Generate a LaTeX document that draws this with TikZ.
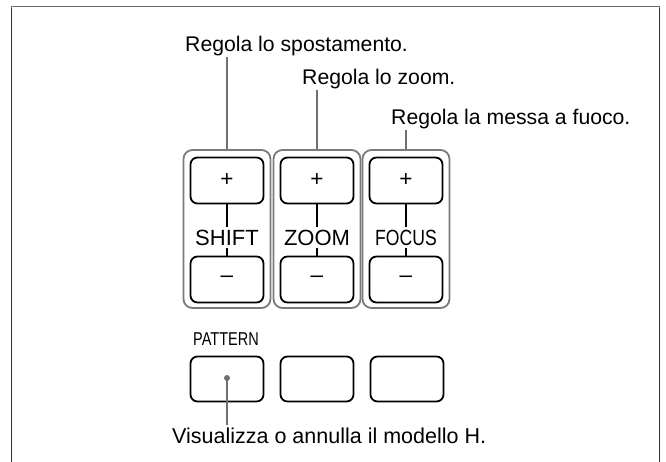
\documentclass[tikz,border=0pt]{standalone}
\usepackage{fontspec}
\setmainfont{Liberation Sans}
\usepackage{graphicx}
\definecolor{frameg}{HTML}{6E6E6E}
\definecolor{leadg}{HTML}{707070}
\definecolor{grpg}{HTML}{7A7A7A}
\begin{document}
\begin{tikzpicture}[x=1pt,y=-1pt,
  lbl/.style={inner sep=0pt,font=\fontsize{21.2}{24}\selectfont},
  glbl/.style={inner sep=0pt,font=\fontsize{22}{24}\selectfont},
  grp/.style={draw=grpg,line width=1.8pt,rounded corners=9pt,minimum width=87pt,minimum height=158pt,inner sep=0pt},
  btn/.style={draw=black,line width=1.8pt,rounded corners=7pt,minimum width=73pt,minimum height=46pt,inner sep=0pt,font=\fontsize{22.5}{24}\selectfont},
  lead/.style={draw=leadg,line width=1.5pt},
  link/.style={draw=black,line width=1.8pt}
]
\useasboundingbox (0,0) rectangle (666,462);
% frame
\draw[frameg,line width=1.6pt] (11.5,462) -- (11.5,6.5) -- (659.5,6.5) -- (659.5,462);
\draw[black!80,line width=1.4pt] (11.5,462) -- (11.5,8);
\draw[black!80,line width=1.4pt] (659.5,462) -- (659.5,8);

% groups
\node[grp] (g1) at (227,229) {};
\node[grp] (g2) at (317,229) {};
\node[grp] (g3) at (406,229) {};

% buttons
\node[btn] (p1) at (227,180.5) {+};
\node[btn] (m1) at (227,279.5) {–};
\node[btn] (p2) at (317,180.5) {+};
\node[btn] (m2) at (317,279.5) {–};
\node[btn] (p3) at (406,180.5) {+};
\node[btn] (m3) at (406,279.5) {–};

% labels in groups
\node[glbl,anchor=base] (l1) at (227,246) {SHIFT};
\node[glbl,anchor=base] (l2) at (317,246) {ZOOM};
\node[glbl,anchor=base] (l3) at (406,246) {\scalebox{0.8}[1]{FOCUS}};

\draw[link,shorten >=3pt] (p1.south) -- (l1.north);
\draw[link,shorten <=2pt] (l1.south) -- (m1.north);
\draw[link,shorten >=3pt] (p2.south) -- (l2.north);
\draw[link,shorten <=2pt] (l2.south) -- (m2.north);
\draw[link,shorten >=3pt] (p3.south) -- (l3.north);
\draw[link,shorten <=2pt] (l3.south) -- (m3.north);

% top callouts
\node[lbl,anchor=base west] (t1) at (185,52) {Regola lo spostamento.};
\node[lbl,anchor=base west] (t2) at (302,85) {Regola lo zoom.};
\node[lbl,anchor=base west] (t3) at (391,125) {Regola la messa a fuoco.};
\coordinate (c1) at (g1.north |- t1.south);
\coordinate (c2) at (g2.north |- t2.south);
\coordinate (c3) at (g3.north |- t3.south);
\draw[lead] (c1) -- (g1.north);
\draw[lead] (c2) -- (g2.north);
\draw[lead] (c3) -- (g3.north);

% bottom row
\node[inner sep=0pt,anchor=base,font=\fontsize{18.6}{22}\selectfont] (pat) at (226,345) {\scalebox{0.78}[1]{PATTERN}};
\node[btn,minimum height=45pt] (b1) at (227,379) {};
\node[btn,minimum height=45pt] (b2) at (317,379) {};
\node[btn,minimum height=45pt] (b3) at (407,379) {};
\node[inner sep=0pt,anchor=base west,font=\fontsize{21.5}{24}\selectfont] (t4) at (172,443) {Visualizza o annulla il modello H.};
\coordinate (dot) at (227,378);
\coordinate (c4) at (227,425);
\fill[leadg] (dot) circle (3pt);
\draw[lead] (dot) -- (c4);
\end{tikzpicture}
\end{document}
